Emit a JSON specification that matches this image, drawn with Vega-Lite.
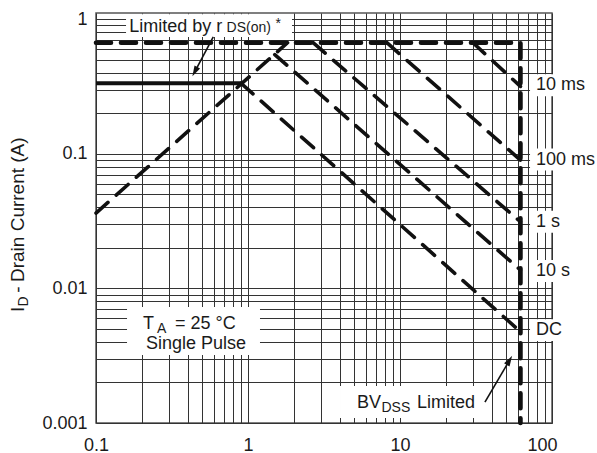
{
  "$schema": "https://vega.github.io/schema/vega-lite/v6.json",
  "width": 456,
  "height": 410,
  "autosize": {"type": "none"},
  "padding": {"left": 96, "top": 13, "right": 45, "bottom": 30},
  "background": "white",
  "config": {
    "view": {"stroke": "#555555", "strokeWidth": 1.5},
    "font": "Liberation Sans",
    "text": {"font": "Liberation Sans", "fontSize": 18, "color": "#1a1a1a"},
    "axis": {
      "grid": true,
      "gridColor": "#333333",
      "gridWidth": 1,
      "ticks": false,
      "domain": false,
      "labelFlush": false,
      "labelOverlap": false,
      "labelFont": "Liberation Sans",
      "labelFontSize": 18,
      "labelColor": "#1a1a1a"
    }
  },
  "datasets": {
    "boxes": [
      {"x": 0.1576, "x2": 1.948, "y": 0.7375, "y2": 1.09},
      {"x": 0.16, "x2": 1.199, "y": 0.0032, "y2": 0.00727},
      {"x": 4.03, "x2": 36.2, "y": 0.001089, "y2": 0.001883},
      {"x": 71.7, "x2": 207, "y": 0.2684, "y2": 0.391},
      {"x": 71.7, "x2": 207, "y": 0.0751, "y2": 0.1095},
      {"x": 71.7, "x2": 207, "y": 0.02593, "y2": 0.03778},
      {"x": 71.7, "x2": 207, "y": 0.01118, "y2": 0.0163},
      {"x": 71.7, "x2": 207, "y": 0.00406, "y2": 0.00591}
    ],
    "lines": [
      {"s": "rds", "o": 1, "x": 0.1, "y": 0.335},
      {"s": "rds", "o": 2, "x": 0.9, "y": 0.335},
      {"s": "rise", "o": 1, "x": 0.1, "y": 0.0363},
      {"s": "rise", "o": 2, "x": 1.82, "y": 0.67},
      {"s": "DC", "o": 1, "x": 0.9, "y": 0.335},
      {"s": "DC", "o": 2, "x": 62, "y": 0.00477},
      {"s": "10 s", "o": 1, "x": 1.5, "y": 0.547},
      {"s": "10 s", "o": 2, "x": 62, "y": 0.0137},
      {"s": "1 s", "o": 1, "x": 2.68, "y": 0.67},
      {"s": "1 s", "o": 2, "x": 62, "y": 0.0313},
      {"s": "100 ms", "o": 1, "x": 8.2, "y": 0.67},
      {"s": "100 ms", "o": 2, "x": 62, "y": 0.0899},
      {"s": "10 ms", "o": 1, "x": 30.2, "y": 0.67},
      {"s": "10 ms", "o": 2, "x": 62, "y": 0.317},
      {"s": "limit", "o": 1, "x": 0.1, "y": 0.67},
      {"s": "limit", "o": 2, "x": 62, "y": 0.67},
      {"s": "limit", "o": 3, "x": 62, "y": 0.001}
    ],
    "arrows": [
      {"id": "rds", "x": 0.591, "y": 0.741, "x2": 0.447, "y2": 0.408},
      {"id": "bv", "x": 36.2, "y": 0.00143, "x2": 52.5, "y2": 0.002922}
    ],
    "labels": [
      {"g": "curve", "text": "10 ms", "x": 78.5, "y": 0.324},
      {"g": "curve", "text": "100 ms", "x": 78.5, "y": 0.0907},
      {"g": "curve", "text": "1 s", "x": 78.5, "y": 0.0313},
      {"g": "curve", "text": "10 s", "x": 78.5, "y": 0.0135},
      {"g": "curve", "text": "DC", "x": 78.5, "y": 0.0049},
      {"g": "big", "text": "Limited by r", "x": 0.1656, "y": 0.807},
      {"g": "small", "text": "DS(on)", "x": 0.7222, "y": 0.807},
      {"g": "small", "text": "*", "x": 1.517, "y": 0.865},
      {"g": "big", "text": "T", "x": 0.2038, "y": 0.004995},
      {"g": "small", "text": "A", "x": 0.2519, "y": 0.004662},
      {"g": "big", "text": "= 25 °C", "x": 0.331, "y": 0.004995},
      {"g": "center", "text": "Single Pulse", "x": 0.4548, "y": 0.003546},
      {"g": "big", "text": "BV", "x": 5.213, "y": 0.001292},
      {"g": "small", "text": "DSS", "x": 7.555, "y": 0.001207},
      {"g": "big", "text": "Limited", "x": 12.94, "y": 0.001292},
      {"g": "tbig", "text": "I", "x": 0.0336, "y": 0.00668},
      {"g": "tsmall", "text": "D", "x": 0.0357, "y": 0.00734},
      {"g": "tbig", "text": "-", "x": 0.0336, "y": 0.0093},
      {"g": "tbig", "text": "Drain Current (A)", "x": 0.0336, "y": 0.01116}
    ]
  },
  "encoding": {
    "x": {
      "field": "x",
      "type": "quantitative",
      "title": null,
      "scale": {"type": "log", "domain": [0.1, 100], "nice": false},
      "axis": {
        "values": [0.1, 0.2, 0.3, 0.4, 0.5, 0.6, 0.7, 0.8, 0.9, 1, 2, 3, 4, 5, 6, 7, 8, 9, 10, 20, 30, 40, 50, 60, 70, 80, 90, 100],
        "labelExpr": "indexof([0.1, 1, 10, 100], datum.value) >= 0 ? format(datum.value, '~g') : ''",
        "labelPadding": 13,
        "labelOffset": {"condition": {"test": "datum.value == 100", "value": -10}, "value": 0}
      }
    },
    "y": {
      "field": "y",
      "type": "quantitative",
      "title": null,
      "scale": {"type": "log", "domain": [0.001, 1.114], "nice": false},
      "axis": {
        "values": [0.001, 0.002, 0.003, 0.004, 0.005, 0.006, 0.007, 0.008, 0.009, 0.01, 0.02, 0.03, 0.04, 0.05, 0.06, 0.07, 0.08, 0.09, 0.1, 0.2, 0.3, 0.4, 0.5, 0.6, 0.7, 0.8, 0.9, 1],
        "labelExpr": "indexof([0.001, 0.01, 0.1, 1], datum.value) >= 0 ? format(datum.value, '~g') : ''",
        "labelPadding": 9
      }
    }
  },
  "layer": [
    {
      "data": {"name": "boxes"},
      "mark": {"type": "rect", "fill": "white", "strokeWidth": 0},
      "encoding": {
        "x2": {"field": "x2"},
        "y2": {"field": "y2"}
      }
    },
    {
      "data": {"name": "lines"},
      "transform": [{"filter": "datum.s == 'rds'"}],
      "mark": {"type": "line", "color": "#111111", "strokeWidth": 4, "strokeCap": "butt"},
      "encoding": {
        "order": {"field": "o"}
      }
    },
    {
      "data": {"name": "lines"},
      "transform": [{"filter": "datum.s != 'rds' && datum.s != 'limit'"}],
      "mark": {"type": "line", "color": "#111111", "strokeWidth": 3.6, "strokeDash": [16, 11], "strokeCap": "round"},
      "encoding": {
        "detail": {"field": "s"},
        "order": {"field": "o"}
      }
    },
    {
      "data": {"name": "lines"},
      "transform": [{"filter": "datum.s == 'limit'"}],
      "mark": {"type": "line", "color": "#111111", "strokeWidth": 4.6, "strokeDash": [15, 10], "strokeCap": "round", "strokeJoin": "round"},
      "encoding": {
        "order": {"field": "o"}
      }
    },
    {
      "data": {"name": "arrows"},
      "mark": {"type": "rule", "color": "#111111", "strokeWidth": 1.6},
      "encoding": {
        "x2": {"field": "x2"},
        "y2": {"field": "y2"}
      }
    },
    {
      "data": {"name": "arrows"},
      "transform": [{"filter": "datum.id == 'rds'"}],
      "mark": {"type": "point", "shape": "M0,-1L0.6,1L-0.6,1Z", "filled": true, "color": "#111111", "opacity": 1, "size": 110, "angle": 208},
      "encoding": {
        "x": {"field": "x2", "type": "quantitative"},
        "y": {"field": "y2", "type": "quantitative"}
      }
    },
    {
      "data": {"name": "arrows"},
      "transform": [{"filter": "datum.id == 'bv'"}],
      "mark": {"type": "point", "shape": "M0,-1L0.6,1L-0.6,1Z", "filled": true, "color": "#111111", "opacity": 1, "size": 110, "angle": 30.5},
      "encoding": {
        "x": {"field": "x2", "type": "quantitative"},
        "y": {"field": "y2", "type": "quantitative"}
      }
    },
    {
      "data": {"name": "labels"},
      "transform": [{"filter": "datum.g == 'curve'"}],
      "mark": {"type": "text", "align": "left", "baseline": "middle", "fontSize": 18},
      "encoding": {"text": {"field": "text"}}
    },
    {
      "data": {"name": "labels"},
      "transform": [{"filter": "datum.g == 'big'"}],
      "mark": {"type": "text", "align": "left", "baseline": "alphabetic", "fontSize": 18},
      "encoding": {"text": {"field": "text"}}
    },
    {
      "data": {"name": "labels"},
      "transform": [{"filter": "datum.g == 'center'"}],
      "mark": {"type": "text", "align": "center", "baseline": "alphabetic", "fontSize": 18},
      "encoding": {"text": {"field": "text"}}
    },
    {
      "data": {"name": "labels"},
      "transform": [{"filter": "datum.g == 'small'"}],
      "mark": {"type": "text", "align": "left", "baseline": "alphabetic", "fontSize": 14},
      "encoding": {"text": {"field": "text"}}
    },
    {
      "data": {"name": "labels"},
      "transform": [{"filter": "datum.g == 'tbig'"}],
      "mark": {"type": "text", "align": "left", "baseline": "alphabetic", "fontSize": 19, "angle": 270},
      "encoding": {"text": {"field": "text"}}
    },
    {
      "data": {"name": "labels"},
      "transform": [{"filter": "datum.g == 'tsmall'"}],
      "mark": {"type": "text", "align": "left", "baseline": "alphabetic", "fontSize": 14, "angle": 270},
      "encoding": {"text": {"field": "text"}}
    }
  ]
}
